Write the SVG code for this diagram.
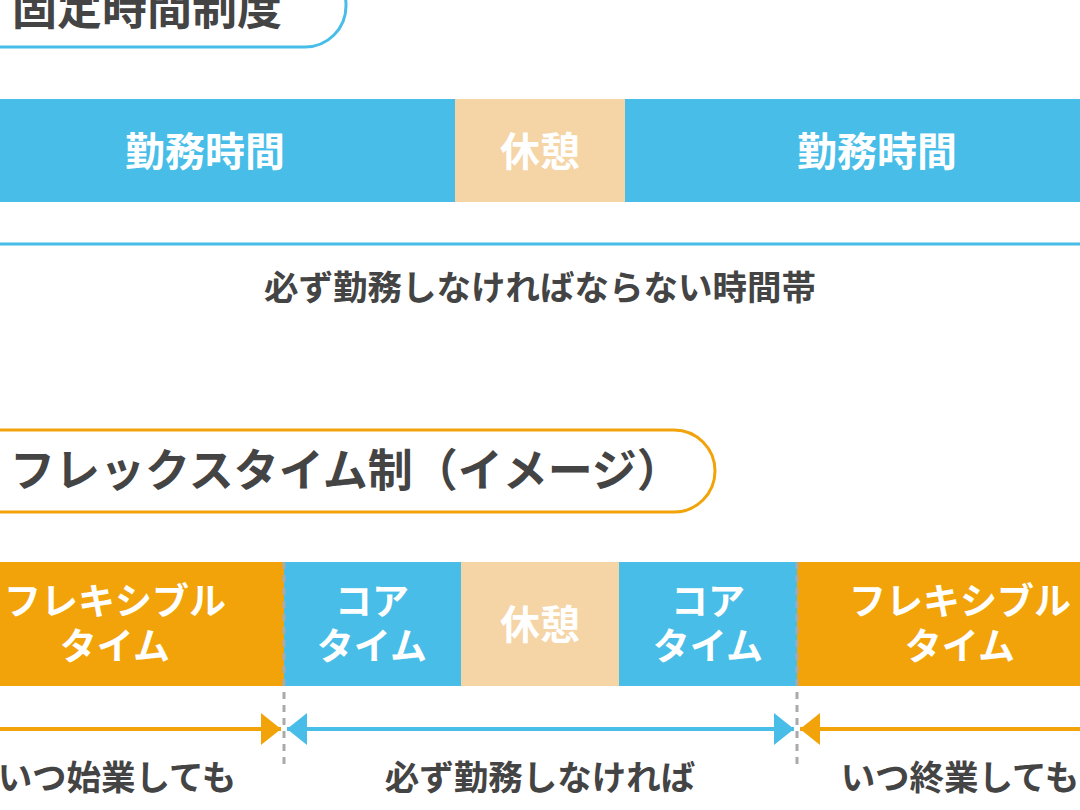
<svg xmlns="http://www.w3.org/2000/svg" width="1080" height="810" viewBox="0 0 1080 810">
<style>
text{font-family:"Noto Sans CJK JP","Noto Sans",sans-serif;font-weight:bold;text-anchor:middle;}
.w{fill:#ffffff;font-size:37px;}
.big{font-size:40px;}
.d{fill:#444444;}
.n{font-size:34.5px;}
.blue{fill:#47BDE8;}
.org{fill:#F2A30A;}
.beige{fill:#F5D4A6;}
</style>
<defs>
<marker id="ao" viewBox="0 0 10 10" refX="10" refY="5" markerWidth="5" markerHeight="8" markerUnits="strokeWidth" orient="auto" preserveAspectRatio="none"><path d="M0,0L10,5L0,10z" fill="#F2A30A"/></marker>
<marker id="ab" viewBox="0 0 10 10" refX="10" refY="5" markerWidth="5" markerHeight="8" markerUnits="strokeWidth" orient="auto-start-reverse" preserveAspectRatio="none"><path d="M0,0L10,5L0,10z" fill="#47BDE8"/></marker>
</defs>
<rect width="1080" height="810" fill="#ffffff"/>

<g id="title1">
<rect x="-60" y="-36" width="406" height="83" rx="41" fill="#ffffff" stroke="#47BDE8" stroke-width="3"/>
<text x="12" y="25" class="d" style="text-anchor:start;font-size:45px">固定時間制度</text>
</g>

<g id="fixed-work1"><rect x="0" y="99" width="455" height="103" class="blue"/><text x="205" y="166" class="w big">勤務時間</text></g>
<g id="fixed-break"><rect x="455" y="99" width="170" height="103" class="beige"/><text x="540" y="166" class="w big">休憩</text></g>
<g id="fixed-work2"><rect x="625" y="99" width="455" height="103" class="blue"/><text x="877" y="166" class="w big">勤務時間</text></g>

<g id="fixed-label">
<line x1="0" y1="244" x2="1080" y2="244" stroke="#47BDE8" stroke-width="3"/>
<text x="540" y="300" class="d n">必ず勤務しなければならない時間帯</text>
</g>

<g id="title2">
<rect x="-60" y="430" width="775" height="82" rx="41" fill="#ffffff" stroke="#F2A30A" stroke-width="3"/>
<text x="10" y="487" class="d" style="text-anchor:start;font-size:45px">フレックスタイム制（イメージ）</text>
</g>

<g id="flex1"><rect x="0" y="562" width="284" height="124" class="org"/><text x="115" y="615" class="w">フレキシブル</text><text x="115" y="660" class="w">タイム</text></g>
<g id="core1"><rect x="284" y="562" width="177" height="124" class="blue"/><text x="372" y="615" class="w">コア</text><text x="372" y="660" class="w">タイム</text></g>
<g id="break2"><rect x="461" y="562" width="158" height="124" class="beige"/><text x="540" y="639" class="w big">休憩</text></g>
<g id="core2"><rect x="619" y="562" width="178" height="124" class="blue"/><text x="708" y="615" class="w">コア</text><text x="708" y="660" class="w">タイム</text></g>
<g id="flex2"><rect x="797" y="562" width="283" height="124" class="org"/><text x="960" y="615" class="w">フレキシブル</text><text x="960" y="660" class="w">タイム</text></g>

<g id="connectors">
<line x1="284" y1="562" x2="284" y2="768" stroke="#AAAAAA" stroke-width="3" stroke-dasharray="7,6"/>
<line x1="797" y1="562" x2="797" y2="768" stroke="#AAAAAA" stroke-width="3" stroke-dasharray="7,6"/>
<line x1="0" y1="729" x2="281" y2="729" stroke="#F2A30A" stroke-width="4" marker-end="url(#ao)"/>
<line x1="287" y1="729" x2="794" y2="729" stroke="#47BDE8" stroke-width="4" marker-start="url(#ab)" marker-end="url(#ab)"/>
<line x1="1080" y1="729" x2="800" y2="729" stroke="#F2A30A" stroke-width="4" marker-end="url(#ao)"/>
</g>

<g id="notes">
<text x="117" y="790" class="d n">いつ始業しても</text>
<text x="540" y="790" class="d n">必ず勤務しなければ</text>
<text x="960" y="790" class="d n">いつ終業しても</text>
</g>
</svg>
